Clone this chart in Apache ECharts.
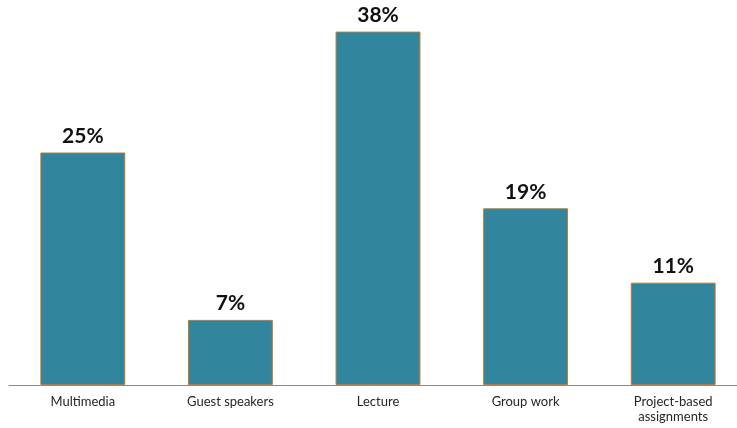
<!DOCTYPE html>
<html>
<head>
<meta charset="utf-8">
<script src="https://cdn.jsdelivr.net/npm/echarts@6/dist/echarts.min.js"></script>
<style>
html,body{margin:0;padding:0;background:#fff;}
#chart{width:737px;height:428px;}
</style>
</head>
<body>
<div id="chart"></div>
<script>
// Teaching methods and the share of responses for each
const categories = ['Multimedia', 'Guest speakers', 'Lecture', 'Group work', 'Project-based\nassignments'];
const shares = [25, 7, 38, 19, 11];

const chart = echarts.init(document.getElementById('chart'));
chart.setOption({
  animation: false,
  grid: { left: 9, right: -10, top: 13, bottom: 43, outerBoundsMode: 'none', containLabel: false },
  xAxis: {
    type: 'category',
    data: categories,
    axisTick: { show: false },
    axisLine: { lineStyle: { color: '#898989', width: 1 } },
    axisLabel: {
      color: '#262626',
      fontFamily: 'Lato',
      fontSize: 13,
      margin: 9,
      lineHeight: 15,
      interval: 0
    }
  },
  yAxis: {
    type: 'value',
    min: 0,
    max: 40,
    show: false,
    splitLine: { show: false }
  },
  series: [{
    type: 'bar',
    data: shares,
    barWidth: '57.5%',
    itemStyle: {
      color: '#31859C',
      borderColor: '#C8762C',
      borderWidth: 1
    },
    label: {
      show: true,
      position: 'top',
      distance: 6,
      formatter: '{c}%',
      color: '#111',
      fontFamily: 'Lato',
      fontWeight: 'bold',
      fontSize: 21
    }
  }]
});
</script>
</body>
</html>
